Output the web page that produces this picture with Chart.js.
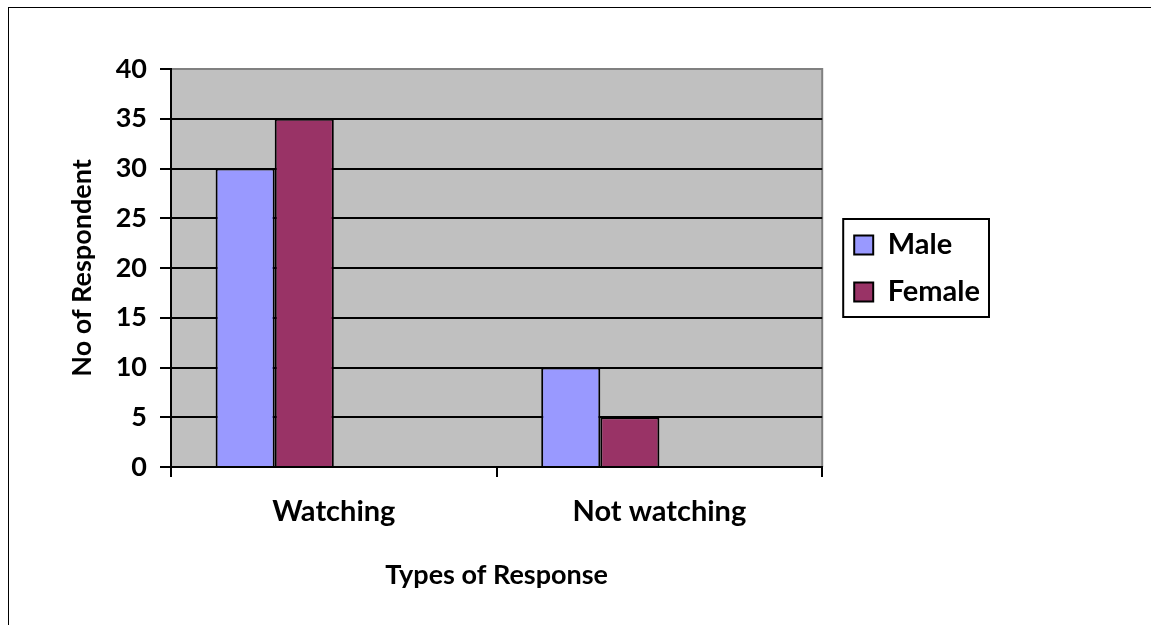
<!DOCTYPE html>
<html>
<head>
<meta charset="utf-8">
<script src="https://cdn.jsdelivr.net/npm/chart.js@4/dist/chart.umd.min.js"></script>
<style>
  html, body { margin: 0; padding: 0; background: #fff; }
  #wrap { position: relative; width: 1151px; height: 625px; }
  #frame { position: absolute; left: 8px; top: 7px; width: 1160px; height: 640px; border-left: 1px solid #000; border-top: 1px solid #000; }
  canvas { position: absolute; left: 0; top: 0; }
</style>
</head>
<body>
<div id="wrap">
  <div id="frame"></div>
  <canvas id="chart" width="1151" height="625"></canvas>
</div>
<script>
// data
var categories = ["Watching", "Not watching"];
var maleValues = [30, 10];
var femaleValues = [35, 5];
var yTicks = [0, 5, 10, 15, 20, 25, 30, 35, 40];

document.addEventListener("DOMContentLoaded", () => {

    var ctx = document.getElementById("chart").getContext("2d");
    var fontName = "Lato, 'Open Sans', sans-serif";

    // grey plot area
    var plotBg = {
        id: "plotBg",
        beforeDraw: function (chart) {
            var a = chart.chartArea;
            var c = chart.ctx;
            c.save();
            c.fillStyle = "#C0C0C0";
            c.fillRect(a.left, a.top, a.right - a.left, a.bottom - a.top);
            c.strokeStyle = "#808080";
            c.lineWidth = 2;
            c.beginPath();
            c.moveTo(a.left, a.top);
            c.lineTo(a.right, a.top);
            c.lineTo(a.right, a.bottom);
            c.stroke();
            c.restore();
        }
    };

    // move the legend next to the plot and put a box round it
    var legendBox = {
        id: "legendBox",
        afterLayout: function (chart) {
            var lg = chart.legend;
            var w = lg.right - lg.left;
            lg.left = chart.chartArea.right + 14;
            lg.right = lg.left + w;
            lg.top = 69;
            lg.bottom = 468;
        },
        afterDraw: function (chart) {
            var boxes = chart.legend.legendHitBoxes;
            if (!boxes || !boxes.length) return;
            var l = Infinity, r = -Infinity, t = Infinity, b = -Infinity;
            boxes.forEach(function (h) {
                l = Math.min(l, h.left);
                r = Math.max(r, h.left + h.width);
                t = Math.min(t, h.top);
                b = Math.max(b, h.top + h.height);
            });
            var c = chart.ctx;
            c.save();
            c.strokeStyle = "#000";
            c.lineWidth = 2;
            c.strokeRect(l - 11, t - 11.5, r - l + 20, b - t + 22);
            c.restore();
        }
    };

    new Chart(ctx, {
        type: "bar",
        data: {
            labels: categories,
            datasets: [
                {
                    label: "Male",
                    data: maleValues,
                    backgroundColor: "#9999FF",
                    borderColor: "#000",
                    borderWidth: 2
                },
                {
                    label: "Female",
                    data: femaleValues,
                    backgroundColor: "#993366",
                    borderColor: "#000",
                    borderWidth: 2
                },
                // two empty series, as in the source sheet
                { label: "", data: [null, null] },
                { label: "", data: [null, null] }
            ]
        },
        options: {
            responsive: false,
            animation: false,
            categoryPercentage: 0.726,
            barPercentage: 1,
            layout: { padding: { left: 0, top: 69, right: 175, bottom: 0 } },
            plugins: {
                legend: {
                    position: "right",
                    labels: {
                        color: "#000",
                        font: { family: fontName, size: 29, weight: "bold" },
                        boxWidth: 19,
                        boxHeight: 19,
                        padding: 18,
                        filter: function (item) { return item.text !== ""; }
                    }
                },
                tooltip: { enabled: false }
            },
            scales: {
                x: {
                    grid: {
                        drawOnChartArea: false,
                        drawTicks: true,
                        tickLength: 10,
                        color: "#000",
                        lineWidth: 2
                    },
                    border: { color: "#000", width: 2 },
                    ticks: {
                        color: "#000",
                        padding: 17,
                        font: { family: fontName, size: 29, weight: "bold" }
                    },
                    title: {
                        display: true,
                        text: "Types of Response",
                        color: "#000",
                        font: { family: fontName, size: 27, weight: "bold" },
                        padding: { top: 0, bottom: 34 }
                    },
                    afterFit: function (scale) { scale.height = 158; }
                },
                y: {
                    min: 0,
                    max: 40,
                    afterBuildTicks: function (scale) {
                        scale.ticks = yTicks.map(function (v) { return { value: v }; });
                    },
                    grid: {
                        color: function (c) { return c.tick && c.tick.value === 40 ? "#808080" : "#000"; },
                        lineWidth: 2,
                        tickLength: 11,
                        tickColor: "#000"
                    },
                    border: { color: "#000", width: 2 },
                    ticks: {
                        color: "#000",
                        padding: 13,
                        font: { family: fontName, size: 27, weight: "bold" }
                    },
                    title: {
                        display: true,
                        text: "No of Respondent",
                        color: "#000",
                        font: { family: fontName, size: 27, weight: "bold" },
                        padding: { top: 66, bottom: 0 }
                    },
                    afterFit: function (scale) { scale.width = 171; }
                }
            }
        },
        plugins: [plotBg, legendBox]
    });
});
</script>
</body>
</html>
